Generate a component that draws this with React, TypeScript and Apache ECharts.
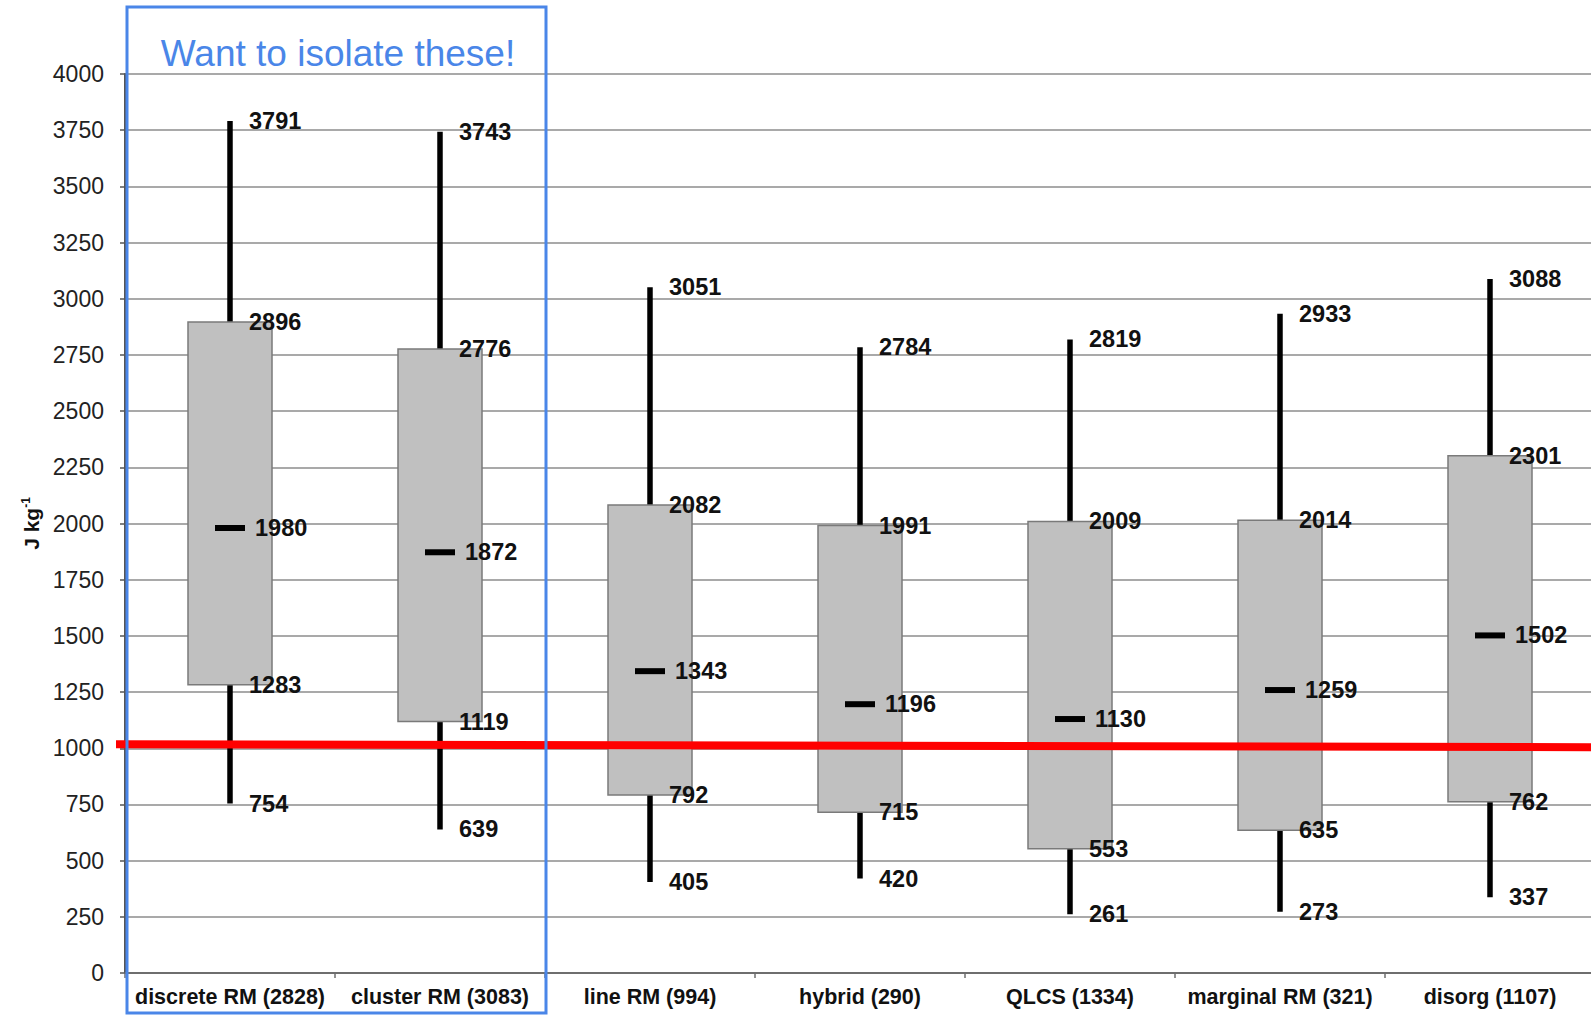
import React, { useEffect, useRef } from 'react';
import * as echarts from 'echarts';

const categories = [
  'discrete RM (2828)',
  'cluster RM (3083)',
  'line RM (994)',
  'hybrid (290)',
  'QLCS (1334)',
  'marginal RM (321)',
  'disorg (1107)',
];
const minValues = [754, 639, 405, 420, 261, 273, 337];
const q1Values = [1283, 1119, 792, 715, 553, 635, 762];
const medianValues = [1980, 1872, 1343, 1196, 1130, 1259, 1502];
const q3Values = [2896, 2776, 2082, 1991, 2009, 2014, 2301];
const maxValues = [3791, 3743, 3051, 2784, 2819, 2933, 3088];

const yMin = 0;
const yMax = 4000;
const yInterval = 250;
const annotationTitle = 'Want to isolate these!';
const thresholdValue = 1000;

const FONT = '"Liberation Sans", Arial, Helvetica, sans-serif';

export default function App() {
  const ref = useRef<HTMLDivElement>(null);

  useEffect(() => {
    if (!ref.current) return;
    const chart = echarts.init(ref.current, undefined, { renderer: 'svg' });

    const data = categories.map((c, i) => [
      i,
      minValues[i],
      q1Values[i],
      medianValues[i],
      q3Values[i],
      maxValues[i],
    ]);

    const renderItem = (params: any, api: any) => {
      const i = api.value(0);
      const vMin = api.value(1);
      const vQ1 = api.value(2);
      const vMed = api.value(3);
      const vQ3 = api.value(4);
      const vMax = api.value(5);
      const pMax = api.coord([i, vMax]);
      const pMin = api.coord([i, vMin]);
      const pQ1 = api.coord([i, vQ1]);
      const pQ3 = api.coord([i, vQ3]);
      const pMed = api.coord([i, vMed]);
      const cx = pMax[0];
      const bandW = api.size([1, 0])[0];
      const boxW = bandW * 0.4;
      const label = (v: number, y: number, dx: number) => ({
        type: 'text',
        x: cx + dx,
        y,
        z2: 10,
        style: {
          text: String(v),
          fill: '#111',
          fontSize: 23.5,
          fontWeight: 'bold',
          fontFamily: FONT,
          align: 'left',
          verticalAlign: 'middle',
        },
      });
      return {
        type: 'group',
        children: [
          {
            type: 'line',
            shape: { x1: cx, y1: pMax[1], x2: cx, y2: pMin[1] },
            style: { stroke: '#000', lineWidth: 5.5 },
          },
          {
            type: 'rect',
            shape: { x: cx - boxW / 2, y: pQ3[1], width: boxW, height: pQ1[1] - pQ3[1] },
            style: { fill: '#c0c0c0', stroke: '#7a7a7a', lineWidth: 1.5 },
          },
          {
            type: 'line',
            shape: { x1: cx - 15, y1: pMed[1], x2: cx + 15, y2: pMed[1] },
            style: { stroke: '#000', lineWidth: 6 },
          },
          label(vMax, pMax[1], 19),
          label(vQ3, pQ3[1], 19),
          label(vMed, pMed[1], 25),
          label(vQ1, pQ1[1], 19),
          label(vMin, pMin[1], 19),
        ],
      };
    };

    chart.setOption({
      animation: false,
      backgroundColor: '#fff',
      grid: { left: 125, top: 74, width: 1470, height: 899, containLabel: false },
      xAxis: {
        type: 'category',
        data: categories,
        boundaryGap: true,
        axisLine: { show: true, lineStyle: { color: '#6e6e6e', width: 2 } },
        axisTick: { show: true, length: 5, inside: false, lineStyle: { color: '#6e6e6e', width: 1.5 } },
        axisLabel: {
          margin: 13,
          color: '#111',
          fontSize: 21.5,
          fontWeight: 'bold',
          fontFamily: FONT,
          interval: 0,
        },
        splitLine: { show: false },
      },
      yAxis: {
        type: 'value',
        min: yMin,
        max: yMax,
        interval: yInterval,
        name: 'J kg{sup|-1}',
        nameLocation: 'middle',
        nameRotate: 90,
        nameGap: 79,
        nameTextStyle: {
          color: '#111',
          fontSize: 21,
          fontWeight: 'bold',
          fontFamily: FONT,
          rich: {
            sup: {
              fontSize: 12,
              fontWeight: 'bold',
              fontFamily: FONT,
              color: '#111',
              verticalAlign: 'top',
              padding: [0, 0, 10, 0],
            },
          },
        },
        axisLine: { show: true, lineStyle: { color: '#555', width: 2 } },
        axisTick: { show: true, length: 5, lineStyle: { color: '#555', width: 1.5 } },
        axisLabel: {
          margin: 21,
          color: '#222',
          fontSize: 23,
          fontFamily: FONT,
          formatter: (v: number) => String(v),
        },
        splitLine: { show: true, lineStyle: { color: '#8c8c8c', width: 1.5 } },
      },
      series: [
        {
          type: 'custom',
          renderItem,
          encode: { x: 0, y: [1, 2, 3, 4, 5] },
          data,
          clip: false,
          z: 3,
        },
      ],
    });

    const y1000 = chart.convertToPixel({ yAxisIndex: 0 }, thresholdValue) as number;

    chart.setOption({
      graphic: [
        {
          type: 'line',
          z: 100,
          shape: { x1: 116, y1: y1000 - 4, x2: 1600, y2: y1000 - 1 },
          style: { stroke: '#ff0000', lineWidth: 8 },
        },
        {
          type: 'rect',
          z: 101,
          shape: { x: 127, y: 7, width: 419, height: 1006 },
          style: { fill: 'none', stroke: '#4a86e8', lineWidth: 3 },
        },
        {
          type: 'text',
          z: 102,
          x: 338,
          y: 53,
          style: {
            text: annotationTitle,
            fill: '#4a86e8',
            fontSize: 37,
            fontFamily: FONT,
            align: 'center',
            verticalAlign: 'middle',
          },
        },
      ],
    });

    return () => chart.dispose();
  }, []);

  return (
    <div
      style={{
        position: 'absolute',
        left: 0,
        top: 0,
        width: 1591,
        height: 1016,
        overflow: 'hidden',
        background: '#fff',
      }}
    >
      <div ref={ref} style={{ width: 1600, height: 1016 }} />
    </div>
  );
}
